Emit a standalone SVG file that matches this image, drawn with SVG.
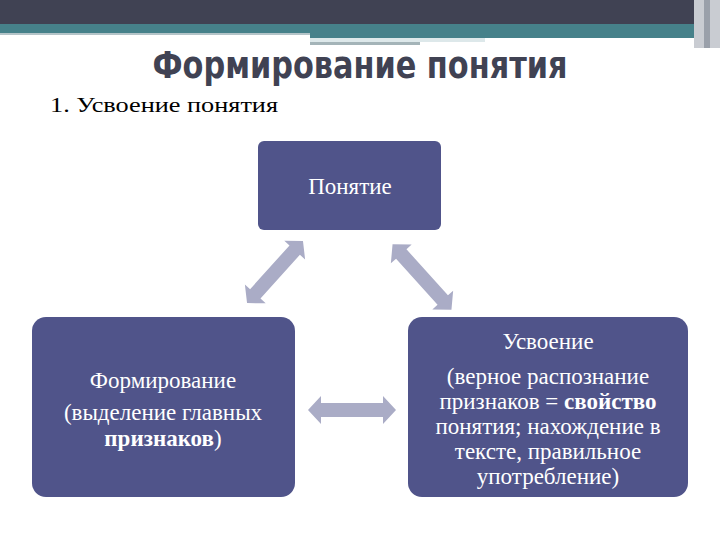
<svg xmlns="http://www.w3.org/2000/svg" width="720" height="540" viewBox="0 0 720 540">
<style>
.box{fill:#50548a}
.t{font-family:'Liberation Serif','DejaVu Serif',serif;font-size:23px;fill:#fff;text-anchor:middle}
.arr{fill:#aaacc6}
</style>
<defs>
<polygon id="da" points="-44,0 -31,-14 -31,-7 31,-7 31,-14 44,0 31,14 31,7 -31,7 -31,14"/>
</defs>
<rect width="720" height="540" fill="#fff"/>
<g id="header">
<rect x="0" y="0" width="720" height="24" fill="#404253"/>
<rect x="0" y="24" width="705" height="9" fill="#46818a"/>
<rect x="0" y="33" width="310" height="2" fill="#b4c4c8"/>
<rect x="310" y="33" width="395" height="5" fill="#46818a"/>
<rect x="310" y="38" width="175" height="4" fill="#dde8ea"/>
<rect x="310" y="42" width="110" height="3" fill="#a4b4b8"/>
<rect x="694" y="0" width="26" height="48" fill="#c9ccd2"/>
<rect x="704" y="0" width="6" height="48" fill="#9aa0aa"/>
</g>
<text x="360" y="78" font-family="'Liberation Sans Narrow','DejaVu Sans Condensed','Liberation Sans',sans-serif" font-weight="bold" font-size="38" fill="#404253" text-anchor="middle" textLength="415" lengthAdjust="spacingAndGlyphs">Формирование понятия</text>
<text x="50" y="112" font-family="'Liberation Serif','DejaVu Serif',serif" font-size="22" fill="#000" textLength="228" lengthAdjust="spacingAndGlyphs">1. Усвоение понятия</text>
<g id="connectors">
<use href="#da" class="arr" transform="translate(275,272) rotate(-48) scale(0.95,1)"/>
<use href="#da" class="arr" transform="translate(422,277) rotate(48)"/>
<use href="#da" class="arr" transform="translate(352,410)"/>
</g>
<g id="n1">
<rect class="box" x="258" y="141" width="183" height="89" rx="6"/>
<text class="t" x="350" y="194">Понятие</text>
</g>
<g id="n2">
<rect class="box" x="32" y="317" width="263" height="180" rx="14"/>
<text class="t" x="163" y="388">Формирование</text>
<text class="t" x="163" y="420">(выделение главных</text>
<text class="t" x="163" y="446"><tspan font-weight="bold">признаков</tspan>)</text>
</g>
<g id="n3">
<rect class="box" x="408" y="317" width="280" height="180" rx="14"/>
<text class="t" x="548" y="349">Усвоение</text>
<text class="t" x="548" y="384">(верное распознание</text>
<text class="t" x="548" y="409">признаков = <tspan font-weight="bold">свойство</tspan></text>
<text class="t" x="548" y="434">понятия; нахождение в</text>
<text class="t" x="548" y="459">тексте, правильное</text>
<text class="t" x="548" y="484">употребление)</text>
</g>
</svg>
